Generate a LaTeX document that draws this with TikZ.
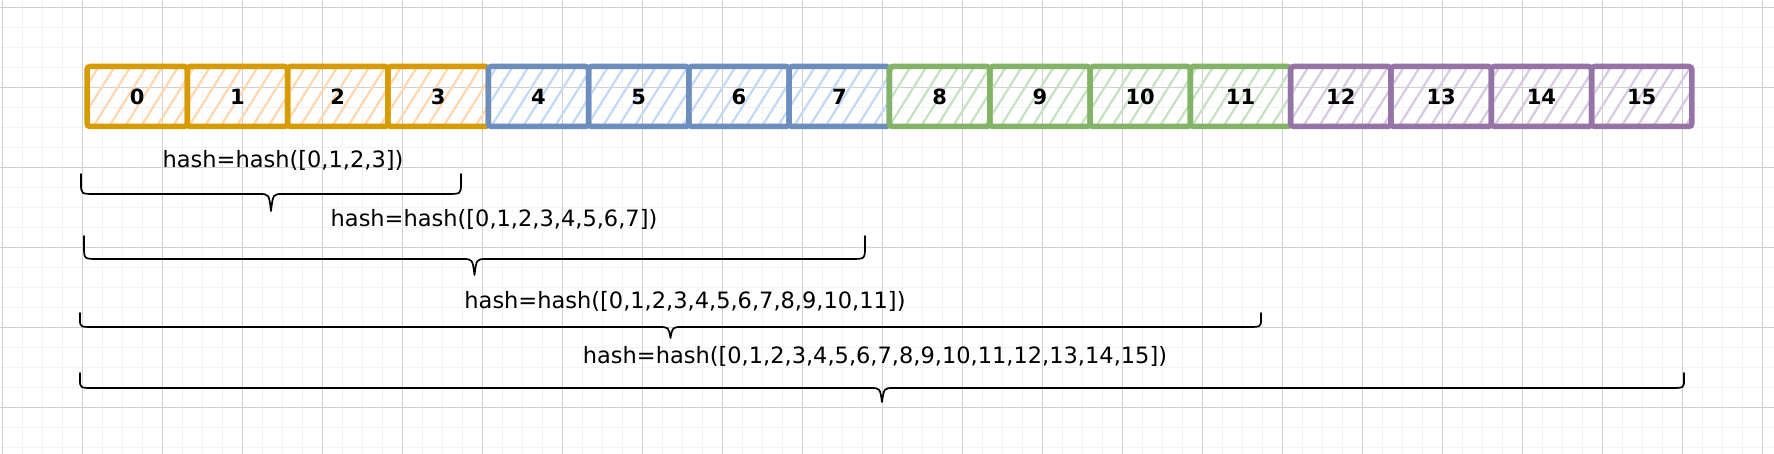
\documentclass[tikz,border=0pt]{standalone}
\usepackage{fontspec}
\setmainfont{DejaVu Sans}
\usetikzlibrary{positioning,patterns.meta}

\definecolor{orangeline}{HTML}{D79B00}
\definecolor{orangehatch}{HTML}{FFD6AD}
\definecolor{blueline}{HTML}{6C8EBF}
\definecolor{bluehatch}{HTML}{C2D8F7}
\definecolor{greenline}{HTML}{82B366}
\definecolor{greenhatch}{HTML}{C4E1C1}
\definecolor{purpleline}{HTML}{9673A6}
\definecolor{purplehatch}{HTML}{D8C8E1}
\definecolor{minorgrid}{HTML}{F2F2F2}
\definecolor{majorgrid}{HTML}{D0D0D0}

\tikzset{
  cell/.style={draw, rounded corners=3pt, line width=5.5pt,
    minimum width=100.3pt, minimum height=60pt, inner sep=0pt,
    font=\fontsize{21}{25}\selectfont\bfseries},
  orangecell/.style={cell, draw=orangeline,
    pattern={Lines[angle=58,distance=13.5pt,line width=2.2pt]}, pattern color=orangehatch},
  bluecell/.style={cell, draw=blueline,
    pattern={Lines[angle=58,distance=13.5pt,line width=2.2pt]}, pattern color=bluehatch},
  greencell/.style={cell, draw=greenline,
    pattern={Lines[angle=58,distance=13.5pt,line width=2.2pt]}, pattern color=greenhatch},
  purplecell/.style={cell, draw=purpleline,
    pattern={Lines[angle=58,distance=13.5pt,line width=2.2pt]}, pattern color=purplehatch},
  hashlabel/.style={anchor=base, inner sep=0pt, font=\fontsize{22.5}{27}\selectfont},
  hashbrace/.style={line width=1.7pt, line cap=round, line join=round},
  minorline/.style={draw=minorgrid, line width=1.3pt},
  majorline/.style={draw=majorgrid, line width=1.2pt}
}

% brace opening upwards: left x, right x, top y, line y, tip y
\newcommand{\bracebelow}[5]{%
  \pgfmathsetmacro{\bmid}{(#1+#2)/2}
  \draw[hashbrace] (#1,#3) -- (#1,{#3+0.45*(#4-#3)})
    .. controls (#1,#4) .. ({#1+14},#4) -- ({\bmid-12},#4)
    .. controls ({\bmid-2},#4) .. (\bmid,#5)
    .. controls ({\bmid+2},#4) .. ({\bmid+12},#4) -- ({#2-14},#4)
    .. controls (#2,#4) .. (#2,{#3+0.45*(#4-#3)}) -- (#2,#3);
}

\begin{document}
\begin{tikzpicture}[x=1pt, y={(0,-1pt)}, on grid, node distance=100.3pt]
    \fill[white] (0,0) rectangle (1774,454);
    \useasboundingbox (0,0) rectangle (1774,454);

    % grid
    \foreach \gx in {2.7,22.7,...,1774} \draw[minorline] (\gx,0) -- (\gx,454);
    \foreach \gy in {7.3,27.3,...,454} \draw[minorline] (0,\gy) -- (1774,\gy);
    \foreach \gx in {2.7,82.7,...,1774} \draw[majorline] (\gx,0) -- (\gx,454);
    \foreach \gy in {7.3,87.3,...,454} \draw[majorline] (0,\gy) -- (1774,\gy);

    % blocks
    \node[orangecell] (b0) at (137.2,96.5) {0};
    \node[orangecell] (b1) [right=of b0] {1};
    \node[orangecell] (b2) [right=of b1] {2};
    \node[orangecell] (b3) [right=of b2] {3};
    \node[bluecell] (b4) [right=of b3] {4};
    \node[bluecell] (b5) [right=of b4] {5};
    \node[bluecell] (b6) [right=of b5] {6};
    \node[bluecell] (b7) [right=of b6] {7};
    \node[greencell] (b8) [right=of b7] {8};
    \node[greencell] (b9) [right=of b8] {9};
    \node[greencell] (b10) [right=of b9] {10};
    \node[greencell] (b11) [right=of b10] {11};
    \node[purplecell] (b12) [right=of b11] {12};
    \node[purplecell] (b13) [right=of b12] {13};
    \node[purplecell] (b14) [right=of b13] {14};
    \node[purplecell] (b15) [right=of b14] {15};

    % hash labels
    \node[hashlabel] (h1) at (283,168) {hash=hash([0,1,2,3])};
    \node[hashlabel] (h2) at (494,227) {hash=hash([0,1,2,3,4,5,6,7])};
    \node[hashlabel] (h3) at (685,308) {hash=hash([0,1,2,3,4,5,6,7,8,9,10,11])};
    \node[hashlabel] (h4) at (875,363) {hash=hash([0,1,2,3,4,5,6,7,8,9,10,11,12,13,14,15])};

    % braces
    \bracebelow{81}{461}{174}{194}{211}
    \bracebelow{84}{865}{236}{259}{275}
    \bracebelow{80}{1261}{313}{327}{338}
    \bracebelow{80}{1684}{373}{388}{402}
\end{tikzpicture}
\end{document}
